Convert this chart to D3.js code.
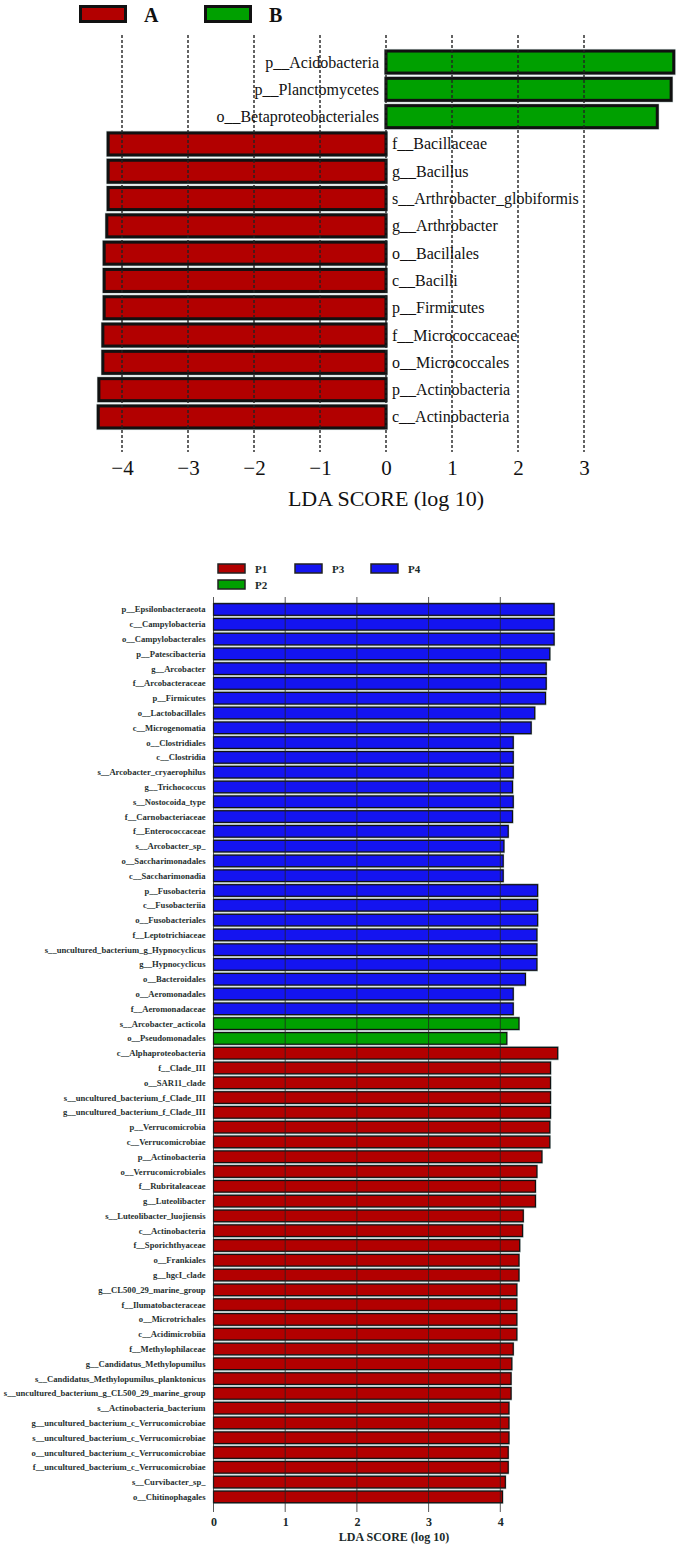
<!DOCTYPE html>
<html>
<head>
<meta charset="utf-8">
<script src="https://cdn.jsdelivr.net/npm/d3@7"></script>
<style>
  html, body { margin: 0; padding: 0; background: #fff; }
  svg { display: block; }
</style>
</head>
<body>
<svg id="chart" width="680" height="1548"></svg>
<script>
// ---------- Top chart data (groups A / B) ----------
const topLabels = [
  "p__Acidobacteria", "p__Planctomycetes", "o__Betaproteobacteriales",
  "f__Bacillaceae", "g__Bacillus", "s__Arthrobacter_globiformis",
  "g__Arthrobacter", "o__Bacillales", "c__Bacilli", "p__Firmicutes",
  "f__Micrococcaceae", "o__Micrococcales", "p__Actinobacteria", "c__Actinobacteria"
];
const topScores = [4.36, 4.32, 4.11, -4.21, -4.21, -4.21, -4.23, -4.27, -4.27, -4.27, -4.29, -4.29, -4.35, -4.36];
const topGroups = ["B", "B", "B", "A", "A", "A", "A", "A", "A", "A", "A", "A", "A", "A"];
const topLegend = ["A", "B"];
const topTicks = [-4, -3, -2, -1, 0, 1, 2, 3];

// ---------- Bottom chart data (groups P1..P4) ----------
const botLabels = [
  "p__Epsilonbacteraeota", "c__Campylobacteria", "o__Campylobacterales", "p__Patescibacteria",
  "g__Arcobacter", "f__Arcobacteraceae", "p__Firmicutes", "o__Lactobacillales", "c__Microgenomatia",
  "o__Clostridiales", "c__Clostridia", "s__Arcobacter_cryaerophilus", "g__Trichococcus",
  "s__Nostocoida_type", "f__Carnobacteriaceae", "f__Enterococcaceae", "s__Arcobacter_sp_",
  "o__Saccharimonadales", "c__Saccharimonadia", "p__Fusobacteria", "c__Fusobacteriia",
  "o__Fusobacteriales", "f__Leptotrichiaceae", "s__uncultured_bacterium_g_Hypnocyclicus",
  "g__Hypnocyclicus", "o__Bacteroidales", "o__Aeromonadales", "f__Aeromonadaceae",
  "s__Arcobacter_acticola", "o__Pseudomonadales",
  "c__Alphaproteobacteria", "f__Clade_III", "o__SAR11_clade", "s__uncultured_bacterium_f_Clade_III",
  "g__uncultured_bacterium_f_Clade_III", "p__Verrucomicrobia", "c__Verrucomicrobiae",
  "p__Actinobacteria", "o__Verrucomicrobiales", "f__Rubritaleaceae", "g__Luteolibacter",
  "s__Luteolibacter_luojiensis", "c__Actinobacteria", "f__Sporichthyaceae", "o__Frankiales",
  "g__hgcI_clade", "g__CL500_29_marine_group", "f__Ilumatobacteraceae", "o__Microtrichales",
  "c__Acidimicrobiia", "f__Methylophilaceae", "g__Candidatus_Methylopumilus",
  "s__Candidatus_Methylopumilus_planktonicus", "s__uncultured_bacterium_g_CL500_29_marine_group",
  "s__Actinobacteria_bacterium", "g__uncultured_bacterium_c_Verrucomicrobiae",
  "s__uncultured_bacterium_c_Verrucomicrobiae", "o__uncultured_bacterium_c_Verrucomicrobiae",
  "f__uncultured_bacterium_c_Verrucomicrobiae", "s__Curvibacter_sp_", "o__Chitinophagales"
];
const botScores = [
  4.75, 4.75, 4.75, 4.69, 4.64, 4.64, 4.63, 4.48, 4.43,
  4.18, 4.18, 4.18, 4.17, 4.18, 4.17, 4.11, 4.05, 4.04, 4.04,
  4.52, 4.52, 4.52, 4.51, 4.51, 4.51, 4.35, 4.18, 4.18,
  4.26, 4.09,
  4.80, 4.70, 4.70, 4.70, 4.70, 4.69, 4.69, 4.58, 4.51, 4.49, 4.49,
  4.32, 4.31, 4.27, 4.26, 4.26, 4.23, 4.23, 4.23, 4.23, 4.18, 4.16,
  4.15, 4.15, 4.12, 4.12, 4.12, 4.11, 4.11, 4.07, 4.03
];
const botGroups = [].concat(
  Array(28).fill("P3"),
  Array(2).fill("P2"),
  Array(31).fill("P1")
);
const botLegendRow1 = ["P1", "P3", "P4"];
const botLegendRow2 = ["P2"];
const botTicks = [0, 1, 2, 3, 4];

// ---------- Colours ----------
const topColor = d3.scaleOrdinal().domain(["A", "B"]).range(["#b20000", "#00a000"]);
const botColor = d3.scaleOrdinal().domain(["P1", "P2", "P3", "P4"]).range(["#b20000", "#00a000", "#1414f0", "#1414f0"]);

const serif = "'Liberation Serif', 'DejaVu Serif', serif";
const svg = d3.select("#chart");

// ================= TOP CHART =================
const xTop = d3.scaleLinear().domain([-4, 3]).range([122, 584]);
const yTop = d3.scaleBand().domain(topLabels).range([48.4, 430.6]);
const topData = topLabels.map((l, i) => ({ label: l, score: topScores[i], group: topGroups[i] }));
const topG = svg.append("g");

// legend
const topLegX = { A: 79, B: 204 };
topLegend.forEach(k => {
  topG.append("rect").attr("x", topLegX[k] + 1.5).attr("y", 6.5).attr("width", 45).attr("height", 15)
    .attr("fill", topColor(k)).attr("stroke", "#111").attr("stroke-width", 3);
  topG.append("text").attr("x", topLegX[k] + 65).attr("y", 21.5)
    .attr("font-family", serif).attr("font-weight", "bold").attr("font-size", 20)
    .attr("fill", "#111").text(k);
});

// gap shading behind bars
topG.selectAll("rect.bg").data(topData).enter().append("rect")
  .attr("x", d => Math.min(xTop(0), xTop(d.score)) - 2)
  .attr("width", d => Math.abs(xTop(d.score) - xTop(0)) + 4)
  .attr("y", d => yTop(d.label) + 0.5)
  .attr("height", yTop.bandwidth() - 1)
  .attr("fill", "#c4d2d2");

// bars
topG.selectAll("rect.bar").data(topData).enter().append("rect")
  .attr("x", d => Math.min(xTop(0), xTop(d.score)))
  .attr("width", d => Math.abs(xTop(d.score) - xTop(0)))
  .attr("y", d => yTop(d.label) + yTop.bandwidth() / 2 - 11)
  .attr("height", 22)
  .attr("fill", d => topColor(d.group))
  .attr("stroke", "#111").attr("stroke-width", 3);

// dashed grid lines
topG.selectAll("line.grid").data(topTicks).enter().append("line")
  .attr("x1", d => xTop(d)).attr("x2", d => xTop(d))
  .attr("y1", 35).attr("y2", 452)
  .attr("stroke", "#222").attr("stroke-width", 1.4).attr("stroke-dasharray", "3,2");

// axis tick labels
const topAxis = d3.axisBottom(xTop).tickValues(topTicks).tickSize(0).tickFormat(d3.format("d"));
const topAxisG = topG.append("g").attr("transform", "translate(0,460)").call(topAxis);
topAxisG.select(".domain").remove();
topAxisG.selectAll("text").attr("font-family", serif).attr("font-size", 21).attr("fill", "#111")
  .attr("dy", "0.71em").attr("y", 0);

topG.append("text").attr("x", xTop(0)).attr("y", 506).attr("text-anchor", "middle")
  .attr("font-family", serif).attr("font-size", 22).attr("fill", "#111").text("LDA SCORE (log 10)");

// labels
topG.selectAll("text.lab").data(topData).enter().append("text")
  .attr("x", d => d.score >= 0 ? xTop(0) - 7 : xTop(0) + 6)
  .attr("y", d => yTop(d.label) + yTop.bandwidth() / 2 + 5.5)
  .attr("text-anchor", d => d.score >= 0 ? "end" : "start")
  .attr("font-family", serif).attr("font-size", 16).attr("fill", "#111")
  .text(d => d.label);

// ================= BOTTOM CHART =================
const xBot = d3.scaleLinear().domain([0, 4]).range([213.5, 500.3]);
const yBot = d3.scaleBand().domain(botLabels).range([602.1, 1504.3]);
const botData = botLabels.map((l, i) => ({ label: l, score: botScores[i], group: botGroups[i] }));
const botG = svg.append("g");

// legend
const legPos = [
  { k: "P1", x: 218, y: 564 }, { k: "P3", x: 295, y: 564 }, { k: "P4", x: 371, y: 564 },
  { k: "P2", x: 218, y: 580 }
];
legPos.forEach(p => {
  botG.append("rect").attr("x", p.x).attr("y", p.y).attr("width", 27).attr("height", 9)
    .attr("fill", botColor(p.k)).attr("stroke", "#222").attr("stroke-width", 1.5);
  botG.append("text").attr("x", p.x + 37).attr("y", p.y + 8.5)
    .attr("font-family", serif).attr("font-weight", "bold").attr("font-size", 11)
    .attr("fill", "#1a2a2a").text(p.k);
});

// gap shading
botG.selectAll("rect.bg").data(botData).enter().append("rect")
  .attr("x", xBot(0))
  .attr("width", d => xBot(d.score) - xBot(0) + 1)
  .attr("y", d => yBot(d.label) + 0.3)
  .attr("height", yBot.bandwidth() - 0.6)
  .attr("fill", "#a9bcbc");

botG.selectAll("rect.bar").data(botData).enter().append("rect")
  .attr("x", xBot(0))
  .attr("width", d => xBot(d.score) - xBot(0))
  .attr("y", d => yBot(d.label) + yBot.bandwidth() / 2 - 5.8)
  .attr("height", 11.6)
  .attr("fill", d => botColor(d.group))
  .attr("stroke", "#111").attr("stroke-width", 1.2);

// grid lines
botG.selectAll("line.grid").data(botTicks).enter().append("line")
  .attr("x1", d => xBot(d)).attr("x2", d => xBot(d))
  .attr("y1", 597).attr("y2", 1512)
  .attr("stroke", "#222").attr("stroke-width", 1).attr("stroke-opacity", 0.75);

const botAxis = d3.axisBottom(xBot).tickValues(botTicks).tickSize(0).tickFormat(d3.format("d"));
const botAxisG = botG.append("g").attr("transform", "translate(0,1517)").call(botAxis);
botAxisG.select(".domain").remove();
botAxisG.selectAll("text").attr("font-family", serif).attr("font-weight", "bold").attr("font-size", 12)
  .attr("fill", "#1a2a2a").attr("dy", "0.71em").attr("y", 0);

botG.append("text").attr("x", 394).attr("y", 1541).attr("text-anchor", "middle")
  .attr("font-family", serif).attr("font-weight", "bold").attr("font-size", 12)
  .attr("fill", "#1a2a2a").text("LDA SCORE (log 10)");

botG.selectAll("text.lab").data(botData).enter().append("text")
  .attr("x", xBot(0) - 8)
  .attr("y", d => yBot(d.label) + yBot.bandwidth() / 2 + 3)
  .attr("text-anchor", "end")
  .attr("font-family", serif).attr("font-weight", "bold").attr("font-size", 8.6)
  .attr("fill", "#1f3030")
  .text(d => d.label);
</script>
</body>
</html>
